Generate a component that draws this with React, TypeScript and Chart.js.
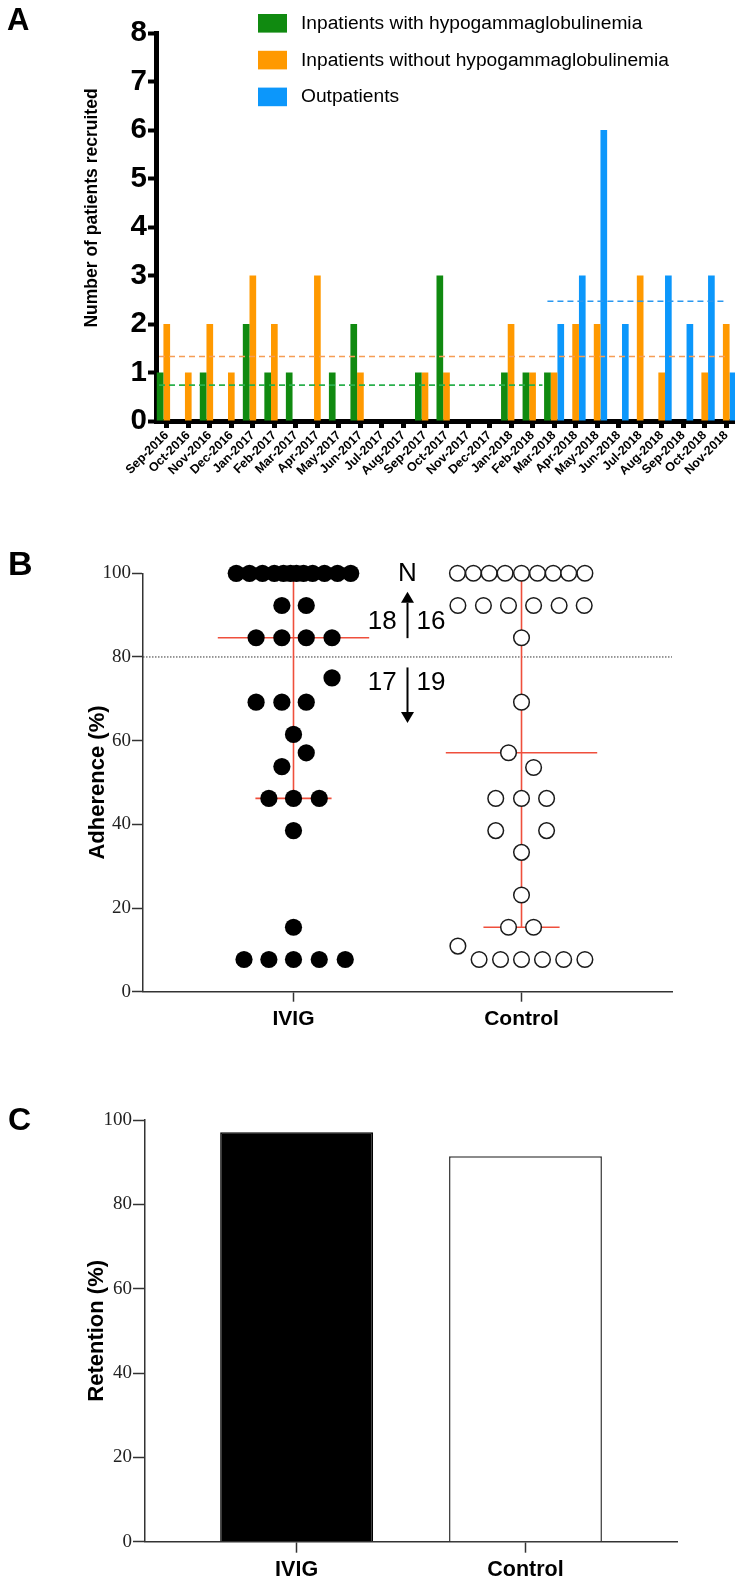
import React, { useEffect, useRef } from "react";
import { Chart, registerables } from "chart.js";

Chart.register(...registerables);

const SANS = '"Liberation Sans", Arial, Helvetica, sans-serif';
const SERIF = '"Liberation Serif", "Times New Roman", Times, serif';

// ---------------- Panel A data ----------------
const months = [
  "Sep-2016", "Oct-2016", "Nov-2016", "Dec-2016", "Jan-2017", "Feb-2017", "Mar-2017",
  "Apr-2017", "May-2017", "Jun-2017", "Jul-2017", "Aug-2017", "Sep-2017", "Oct-2017",
  "Nov-2017", "Dec-2017", "Jan-2018", "Feb-2018", "Mar-2018", "Apr-2018", "May-2018",
  "Jun-2018", "Jul-2018", "Aug-2018", "Sep-2018", "Oct-2018", "Nov-2018",
];
const inpatientsWithHypo = [1, 0, 1, 0, 2, 1, 1, 0, 1, 2, 0, 0, 1, 3, 0, 0, 1, 1, 1, 0, 0, 0, 0, 0, 0, 0, 0];
const inpatientsWithoutHypo = [2, 1, 2, 1, 3, 2, 0, 3, 0, 1, 0, 0, 1, 1, 0, 0, 2, 1, 1, 2, 2, 0, 3, 1, 0, 1, 2];
const outpatientsRecruited = [0, 0, 0, 0, 0, 0, 0, 0, 0, 0, 0, 0, 0, 0, 0, 0, 0, 0, 2, 3, 6, 2, 0, 3, 2, 3, 1];
const seriesLabels = [
  "Inpatients with hypogammaglobulinemia",
  "Inpatients without hypogammaglobulinemia",
  "Outpatients",
];
const seriesColors = ["#108a10", "#ff9900", "#0c97fb"];
const meanLineColors = ["#2ab04c", "#f59d55", "#2a98f0"];
const meanLevels = [0.74, 1.33, 2.47];
const meanStarts = [-0.36, -0.36, 17.69];
const meanEnds = [17.46, 25.97, 26.04];

// ---------------- Panel B data ----------------
const groups = ["IVIG", "Control"];
const ivigAdherence = [
  100, 100, 100, 100, 100, 100, 100, 100, 100, 100, 100, 100,
  92.3, 92.3,
  84.6, 84.6, 84.6, 84.6,
  75,
  69.2, 69.2, 69.2,
  61.5, 57.1, 53.8,
  46.2, 46.2, 46.2,
  38.5, 15.4,
  7.7, 7.7, 7.7, 7.7, 7.7,
];
const ivigSpread = [
  -0.251, -0.193, -0.136, -0.084, -0.044, -0.013, 0.013, 0.044, 0.084, 0.136, 0.193, 0.251,
  -0.051, 0.056,
  -0.164, -0.051, 0.056, 0.169,
  0.169,
  -0.164, -0.051, 0.056,
  0, 0.056, -0.051,
  -0.108, 0, 0.113,
  0, 0,
  -0.217, -0.108, 0, 0.113, 0.227,
];
const controlAdherence = [
  100, 100, 100, 100, 100, 100, 100, 100, 100,
  92.3, 92.3, 92.3, 92.3, 92.3, 92.3,
  84.6, 69.2, 57.1, 53.6,
  46.2, 46.2, 46.2,
  38.5, 38.5,
  33.3, 23.1,
  15.4, 15.4,
  10.9,
  7.7, 7.7, 7.7, 7.7, 7.7, 7.7,
];
const controlSpread = [
  -0.281, -0.211, -0.142, -0.072, 0, 0.07, 0.139, 0.207, 0.278,
  -0.279, -0.167, -0.057, 0.053, 0.165, 0.275,
  0, 0, -0.057, 0.053,
  -0.113, 0, 0.11,
  -0.113, 0.11,
  0, 0,
  -0.057, 0.053,
  -0.279,
  -0.186, -0.092, 0, 0.092, 0.185, 0.278,
];
const medianAdherence = [84.6, 57.1];
const lowerQuartile = [46.2, 15.4];
const upperQuartile = [100, 100];
const adherenceThreshold = 80;
const countAbove = [18, 16];
const countBelow = [17, 19];

// ---------------- Panel C data ----------------
const retention = [97.1, 91.4];

// ---------------- helpers ----------------
const X_RANGE = [0.34, 2.66];
const RED = "#ef4f3c";

function useChart(build: (c: HTMLCanvasElement) => Chart) {
  const ref = useRef<HTMLCanvasElement | null>(null);
  useEffect(() => {
    if (!ref.current) return;
    const chart = build(ref.current);
    return () => chart.destroy();
  }, []);
  return ref;
}

function PanelA() {
  const ref = useChart((canvas) => {
    const series = [inpatientsWithHypo, inpatientsWithoutHypo, outpatientsRecruited];
    const bars: any[] = series.map((data, i) => ({
      type: "bar",
      label: seriesLabels[i],
      data,
      backgroundColor: seriesColors[i],
      borderWidth: 0,
      barPercentage: 1,
      categoryPercentage: 0.93,
    }));
    const meanLines = {
      id: "meanLines",
      afterDatasetsDraw(chart: any) {
        const { ctx } = chart;
        const xs = chart.scales.x;
        const ys = chart.scales.y;
        const p0 = xs.getPixelForValue(0);
        const step = xs.getPixelForValue(1) - p0;
        const px = (v: number) => p0 + v * step;
        ctx.save();
        ctx.lineWidth = 1.6;
        ctx.setLineDash([6, 4]);
        meanLevels.forEach((lvl, i) => {
          const yy = ys.getPixelForValue(lvl);
          ctx.strokeStyle = meanLineColors[i];
          ctx.beginPath();
          ctx.moveTo(px(meanStarts[i]), yy);
          ctx.lineTo(px(meanEnds[i]), yy);
          ctx.stroke();
        });
        ctx.restore();
      },
    };
    const decor = {
      id: "panelADecor",
      afterDraw(chart: any) {
        const ctx = chart.ctx;
        ctx.save();
        ctx.fillStyle = "#000";
        ctx.font = `bold 31px ${SANS}`;
        ctx.textAlign = "left";
        ctx.textBaseline = "alphabetic";
        ctx.fillText("A", 7, 30);
        // legend
        ctx.font = `19.2px ${SANS}`;
        ctx.textBaseline = "middle";
        seriesLabels.forEach((lab, i) => {
          const top = 14 + i * 36.8;
          ctx.fillStyle = seriesColors[i];
          ctx.fillRect(258, top, 29, 18.6);
          ctx.fillStyle = "#000";
          ctx.fillText(lab, 301, top + 9.6);
        });
        // y title
        ctx.translate(92, 208);
        ctx.rotate(-Math.PI / 2);
        ctx.font = `bold 17.5px ${SANS}`;
        ctx.textAlign = "center";
        ctx.textBaseline = "middle";
        ctx.fillText("Number of patients recruited", 0, 0);
        ctx.restore();
      },
    };
    return new Chart(canvas, {
      type: "bar",
      data: { labels: months, datasets: bars },
      options: {
        responsive: false,
        animation: false,
        devicePixelRatio: 1,
        events: [],
        layout: { padding: { top: 33, right: 3, left: 0, bottom: 0 } },
        plugins: { legend: { display: false }, tooltip: { enabled: false } },
        scales: {
          x: {
            type: "category",
            offset: true,
            grid: {
              display: true,
              drawOnChartArea: false,
              offset: false,
              tickLength: 7,
              tickWidth: 5,
              tickColor: "#000",
              color: "#000",
            },
            border: { display: true, width: 5, color: "#000" },
            ticks: {
              font: { family: SANS, size: 12.5, weight: "bold" },
              color: "#000",
              minRotation: 45,
              maxRotation: 45,
              autoSkip: false,
              padding: 0,
            },
            afterFit: (s: any) => {
              s.height = 84;
            },
          },
          y: {
            min: 0,
            max: 8,
            ticks: {
              stepSize: 1,
              font: { family: SANS, size: 29.5, weight: "bold" },
              color: "#000",
              padding: 1,
            },
            grid: { drawOnChartArea: false, tickLength: 8, tickWidth: 4, tickColor: "#000", color: "#000" },
            border: { width: 5, color: "#000" },
            afterFit: (s: any) => {
              s.width = 156;
            },
          },
        },
      } as any,
      plugins: [meanLines, decor],
    });
  });
  return (
    <canvas
      ref={ref}
      width={740}
      height={505}
      style={{ position: "absolute", left: 0, top: 0, width: 740, height: 505 }}
    />
  );
}

function groupLines(g: number) {
  const c = g + 1;
  const mk = (pts: any[]) => ({
    type: "scatter",
    data: pts,
    showLine: true,
    borderColor: RED,
    borderWidth: 1.6,
    pointRadius: 0,
    clip: false,
    order: 2,
  });
  return [
    mk([{ x: c, y: lowerQuartile[g] }, { x: c, y: upperQuartile[g] }]),
    mk([{ x: c - 0.332, y: medianAdherence[g] }, { x: c + 0.332, y: medianAdherence[g] }]),
    mk([{ x: c - 0.167, y: lowerQuartile[g] }, { x: c + 0.167, y: lowerQuartile[g] }]),
    mk([{ x: c - 0.167, y: upperQuartile[g] }, { x: c + 0.167, y: upperQuartile[g] }]),
  ];
}

function PanelB() {
  const ref = useChart((canvas) => {
    const threshold = {
      type: "scatter",
      data: [
        { x: X_RANGE[0], y: adherenceThreshold },
        { x: X_RANGE[1], y: adherenceThreshold },
      ],
      showLine: true,
      borderColor: "#333",
      borderWidth: 1,
      borderDash: [1.5, 1.5],
      pointRadius: 0,
      order: 3,
    };
    const ivig = {
      type: "scatter",
      label: groups[0],
      data: ivigAdherence.map((v, i) => ({ x: 1 + ivigSpread[i], y: v })),
      pointRadius: 8.6,
      pointBackgroundColor: "#000",
      pointBorderWidth: 0,
      clip: false,
      order: 1,
    };
    const control = {
      type: "scatter",
      label: groups[1],
      data: controlAdherence.map((v, i) => ({ x: 2 + controlSpread[i], y: v })),
      pointRadius: 7.8,
      pointBackgroundColor: "#fff",
      pointBorderColor: "#1a1a1a",
      pointBorderWidth: 1.5,
      clip: false,
      order: 1,
    };
    const decor = {
      id: "panelBDecor",
      afterDraw(chart: any) {
        const { ctx } = chart;
        const xs = chart.scales.x;
        const ys = chart.scales.y;
        ctx.save();
        ctx.fillStyle = "#000";
        ctx.strokeStyle = "#000";
        ctx.font = `bold 34px ${SANS}`;
        ctx.textAlign = "left";
        ctx.textBaseline = "alphabetic";
        ctx.fillText("B", 8, 55);
        const ax = xs.getPixelForValue(1.5);
        ctx.font = `26px ${SANS}`;
        ctx.textAlign = "center";
        ctx.textBaseline = "middle";
        ctx.fillText("N", ax, ys.getPixelForValue(99.9));
        ctx.fillText(String(countAbove[0]), xs.getPixelForValue(1.389), ys.getPixelForValue(88.3));
        ctx.fillText(String(countAbove[1]), xs.getPixelForValue(1.603), ys.getPixelForValue(88.3));
        ctx.fillText(String(countBelow[0]), xs.getPixelForValue(1.389), ys.getPixelForValue(73.8));
        ctx.fillText(String(countBelow[1]), xs.getPixelForValue(1.603), ys.getPixelForValue(73.8));
        const arrow = (from: number, to: number) => {
          const y0 = ys.getPixelForValue(from);
          const y1 = ys.getPixelForValue(to);
          const dir = y1 < y0 ? -1 : 1;
          const headLen = 11;
          ctx.lineWidth = 2;
          ctx.beginPath();
          ctx.moveTo(ax, y0);
          ctx.lineTo(ax, y1 - dir * headLen);
          ctx.stroke();
          ctx.beginPath();
          ctx.moveTo(ax, y1);
          ctx.lineTo(ax - 6.5, y1 - dir * headLen);
          ctx.lineTo(ax + 6.5, y1 - dir * headLen);
          ctx.closePath();
          ctx.fill();
        };
        arrow(84.5, 95.6);
        arrow(77.5, 64.2);
        ctx.restore();
      },
    };
    return new Chart(canvas, {
      type: "scatter",
      data: { datasets: [threshold, ...groupLines(0), ...groupLines(1), ivig, control] as any },
      options: {
        responsive: false,
        animation: false,
        devicePixelRatio: 1,
        events: [],
        layout: { padding: { top: 53.3, right: 63, left: 0, bottom: 0 } },
        plugins: { legend: { display: false }, tooltip: { enabled: false } },
        scales: {
          x: {
            type: "linear",
            min: X_RANGE[0],
            max: X_RANGE[1],
            afterBuildTicks: (s: any) => {
              s.ticks = groups.map((_, i) => ({ value: i + 1 }));
            },
            ticks: {
              callback: (_v: any, i: number) => groups[i],
              font: { family: SANS, size: 21, weight: "bold" },
              color: "#000",
              padding: 5,
            },
            grid: { drawOnChartArea: false, tickLength: 10, tickWidth: 1.5, tickColor: "#333" },
            border: { width: 1.5, color: "#333" },
            afterFit: (s: any) => {
              s.height = 58.3;
            },
          },
          y: {
            min: 0,
            max: 100,
            ticks: { stepSize: 20, font: { family: SERIF, size: 19 }, color: "#222", padding: 1 },
            grid: { drawOnChartArea: false, tickLength: 11, tickWidth: 1.5, tickColor: "#333" },
            border: { width: 1.5, color: "#333" },
            title: {
              display: true,
              text: "Adherence (%)",
              font: { family: SANS, size: 22, weight: "bold" },
              color: "#000",
              padding: { top: 85, bottom: 0 },
            },
            afterFit: (s: any) => {
              s.width = 143;
            },
          },
        },
      } as any,
      plugins: [decor],
    });
  });
  return (
    <canvas
      ref={ref}
      width={735}
      height={530}
      style={{ position: "absolute", left: 0, top: 520, width: 735, height: 530 }}
    />
  );
}

function PanelC() {
  const ref = useChart((canvas) => {
    const decor = {
      id: "panelCDecor",
      afterDraw(chart: any) {
        const { ctx } = chart;
        ctx.save();
        ctx.fillStyle = "#000";
        ctx.font = `bold 32px ${SANS}`;
        ctx.textAlign = "left";
        ctx.textBaseline = "alphabetic";
        ctx.fillText("C", 8, 50);
        ctx.restore();
      },
    };
    return new Chart(canvas, {
      type: "bar",
      data: {
        datasets: [
          {
            label: "Retention",
            data: retention.map((v, i) => ({ x: i + 1, y: v })),
            backgroundColor: ["#000", "#fff"],
            borderColor: ["#000", "#333"],
            borderWidth: 1.5,
            categoryPercentage: 1,
            barPercentage: 0.668,
          },
        ],
      } as any,
      options: {
        responsive: false,
        animation: false,
        devicePixelRatio: 1,
        events: [],
        layout: { padding: { top: 40, right: 58, left: 0, bottom: 0 } },
        plugins: { legend: { display: false }, tooltip: { enabled: false } },
        scales: {
          x: {
            type: "linear",
            offset: false,
            min: 0.3376,
            max: 2.662,
            afterBuildTicks: (s: any) => {
              s.ticks = groups.map((_, i) => ({ value: i + 1 }));
            },
            ticks: {
              callback: (_v: any, i: number) => groups[i],
              font: { family: SANS, size: 21.5, weight: "bold" },
              color: "#000",
              padding: 4,
            },
            grid: { offset: false, drawOnChartArea: false, tickLength: 11, tickWidth: 1.5, tickColor: "#333" },
            border: { width: 1.5, color: "#333" },
            afterFit: (s: any) => {
              s.height = 35.3;
            },
          },
          y: {
            min: 0,
            max: 100,
            ticks: { stepSize: 20, font: { family: SERIF, size: 19 }, color: "#222", padding: 1 },
            grid: { drawOnChartArea: false, tickLength: 12, tickWidth: 1.5, tickColor: "#333" },
            border: { width: 1.5, color: "#333" },
            title: {
              display: true,
              text: "Retention (%)",
              font: { family: SANS, size: 22, weight: "bold" },
              color: "#000",
              padding: { top: 83.5, bottom: 0 },
            },
            afterFit: (s: any) => {
              s.width = 145;
            },
          },
        },
      } as any,
      plugins: [decor],
    });
  });
  return (
    <canvas
      ref={ref}
      width={735}
      height={497}
      style={{ position: "absolute", left: 0, top: 1080, width: 735, height: 497 }}
    />
  );
}

export default function App() {
  return (
    <div
      style={{
        position: "absolute",
        left: 0,
        top: 0,
        width: 735,
        height: 1577,
        overflow: "hidden",
        background: "#fff",
      }}
    >
      <PanelA />
      <PanelB />
      <PanelC />
    </div>
  );
}
